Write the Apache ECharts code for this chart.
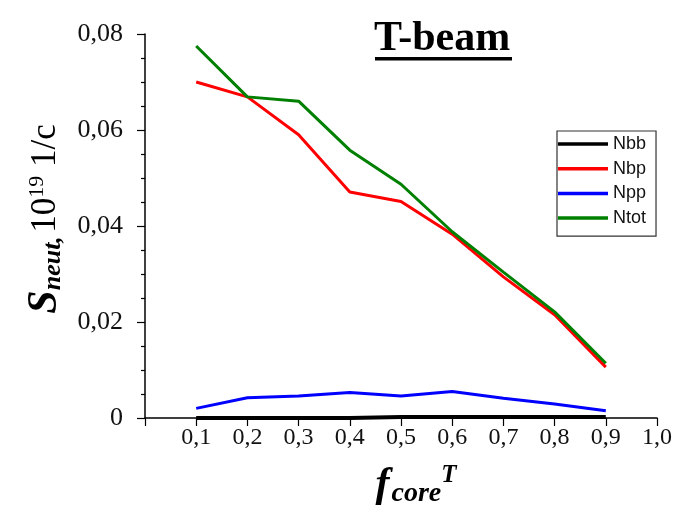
<!DOCTYPE html>
<html><head><meta charset="utf-8">
<script src="https://cdn.jsdelivr.net/npm/echarts@6/dist/echarts.min.js"></script>
<style>html,body{margin:0;padding:0;background:#fff}#c{width:685px;height:513px}</style>
</head><body><div id="c"></div>
<script>
const fcore = [0.1, 0.2, 0.3, 0.4, 0.5, 0.6, 0.7, 0.8, 0.9];
const Nbb  = [0, 0, 0, 0, 0.0002, 0.0002, 0.0002, 0.0002, 0.0002];
const Nbp  = [0.0700, 0.0669, 0.0590, 0.0471, 0.0451, 0.0383, 0.0294, 0.0215, 0.0106];
const Npp  = [0.0020, 0.0042, 0.0046, 0.0053, 0.0046, 0.0055, 0.0041, 0.0029, 0.0015];
const Ntot = [0.0775, 0.0669, 0.0660, 0.0558, 0.0487, 0.0388, 0.0304, 0.0221, 0.0114];
const seriesNames = ['Nbb', 'Nbp', 'Npp', 'Ntot'];
const seriesColors = ['#000000', '#ff0000', '#0000ff', '#008000'];
const yTicks = [0, 0.02, 0.04, 0.06, 0.08];
const xTicks = [0.1, 0.2, 0.3, 0.4, 0.5, 0.6, 0.7, 0.8, 0.9, 1.0];

const serif = '"Liberation Serif", "Times New Roman", serif';
const comma = v => String(v).replace('.', ',');
const pairs = ys => fcore.map((x, i) => [x, ys[i]]);
const allData = [Nbb, Nbp, Npp, Ntot];

const chart = echarts.init(document.getElementById('c'), null, {renderer: 'canvas'});
chart.setOption({
  animation: false,
  backgroundColor: '#fff',
  grid: {left: 145, right: 28, top: 34, bottom: 95, containLabel: false},
  legend: {
    orient: 'vertical', left: 557, top: 131,
    data: seriesNames,
    icon: 'rect', itemWidth: 50, itemHeight: 3.5, itemGap: 6.7,
    borderColor: '#333', borderWidth: 1.2, padding: [4, 10, 9, 1],
    textStyle: {fontFamily: '"Liberation Sans", Arial, sans-serif', fontSize: 18, color: '#111'}
  },
  xAxis: {
    type: 'value', min: 0, max: 1, interval: 0.1,
    axisLine: {show: true, onZero: false, lineStyle: {color: '#000', width: 1.5}},
    axisTick: {show: true, inside: false, length: 8, lineStyle: {color: '#000', width: 1.2}},
    splitLine: {show: false},
    axisLabel: {
      fontFamily: serif, fontSize: 24, color: '#111', margin: 8,
      formatter: v => {
        const t = xTicks.find(t => Math.abs(t - v) < 1e-9);
        return t === undefined ? '' : t.toFixed(1).replace('.', ',');
      }
    },
    name: '{f|f}{sub|core}{sup|T}',
    nameLocation: 'middle', nameGap: 45,
    nameTextStyle: {
      padding: [0, 0, 0, 30],
      rich: {
        f: {fontFamily: serif, fontSize: 42, fontWeight: 'bold', fontStyle: 'italic', color: '#000'},
        sub: {fontFamily: serif, fontSize: 28, fontWeight: 'bold', fontStyle: 'italic', color: '#000', padding: [16, 0, 0, 2]},
        sup: {fontFamily: serif, fontSize: 25, fontStyle: 'italic', fontWeight: 'bold', color: '#000', padding: [0, 0, 20, 0]}
      }
    }
  },
  yAxis: {
    type: 'value', min: 0, max: 0.08, interval: 0.02,
    axisLine: {show: true, lineStyle: {color: '#000', width: 1.5}},
    axisTick: {show: true, inside: false, length: 8, lineStyle: {color: '#000', width: 1.2}},
    minorTick: {show: true, splitNumber: 4, length: 4, lineStyle: {color: '#000', width: 1.2}},
    splitLine: {show: false},
    axisLabel: {
      fontFamily: serif, fontSize: 26, color: '#111', margin: 22,
      formatter: v => (v === 0 ? '0' : comma(v.toFixed(2)))
    },
    name: '{s|S}{sub|neut,} {n|10}{sup|19}{n| 1/c}',
    nameLocation: 'middle', nameGap: 74, nameRotate: 90,
    nameTextStyle: {
      padding: [0, 0, 0, 14],
      rich: {
        s: {fontFamily: serif, fontSize: 42, fontWeight: 'bold', fontStyle: 'italic', color: '#000'},
        sub: {fontFamily: serif, fontSize: 26, fontWeight: 'bold', fontStyle: 'italic', color: '#000', padding: [16, 0, 0, 0]},
        n: {fontFamily: serif, fontSize: 35, color: '#000'},
        sup: {fontFamily: serif, fontSize: 22, color: '#000', padding: [0, 0, 16, 0]}
      }
    }
  },
  series: seriesNames.map((name, i) => ({
    name, type: 'line', data: pairs(allData[i]),
    showSymbol: false, symbol: 'none',
    lineStyle: {color: seriesColors[i], width: i === 0 ? 4 : 3},
    itemStyle: {color: seriesColors[i]},
    z: i === 0 ? 1 : 2
  })),
  graphic: [
    {type: 'text', left: 374, top: 18, style: {text: 'T-beam', fontFamily: serif, fontSize: 42, fontWeight: 'bold', fill: '#000'}},
    {type: 'rect', left: 375, top: 57, shape: {width: 137, height: 3.5}, style: {fill: '#000'}}
  ]
});
</script></body></html>
